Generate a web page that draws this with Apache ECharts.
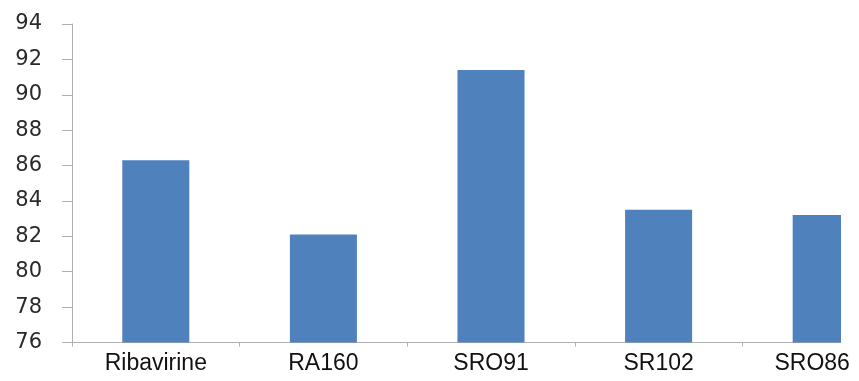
<!DOCTYPE html>
<html>
<head>
<meta charset="utf-8">
<script src="https://cdn.jsdelivr.net/npm/echarts@6/dist/echarts.min.js"></script>
<style>
html,body{margin:0;padding:0;background:#fff;overflow:hidden;width:859px;height:381px;}
#c{width:910px;height:381px;}
</style>
</head>
<body>
<div id="c"></div>
<script>
var categories = ['Ribavirine', 'RA160', 'SRO91', 'SR102', 'SRO86'];
var values = [86.3, 82.1, 91.4, 83.5, 83.2];
var yMin = 76, yMax = 94, yStep = 2;

var chart = echarts.init(document.getElementById('c'), null, {renderer: 'canvas'});
var catData = categories.map(function (c, i) {
  if (i === categories.length - 1) {
    return {value: c, textStyle: {padding: [0, 28, 0, 0]}};
  }
  return c;
});
chart.setOption({
  animation: false,
  backgroundColor: '#ffffff',
  grid: {left: 72, top: 24, right: 0, height: 318.5, containLabel: false},
  xAxis: {
    type: 'category',
    data: catData,
    boundaryGap: true,
    axisLine: {show: true, lineStyle: {color: '#b0b0b0', width: 1}},
    axisTick: {show: true, length: 4, lineStyle: {color: '#b0b0b0'}},
    axisLabel: {
      color: '#111111',
      fontFamily: 'Liberation Sans, Arial, sans-serif',
      fontSize: 23,
      margin: 10,
      interval: 0
    },
    splitLine: {show: false}
  },
  yAxis: {
    type: 'value',
    min: yMin,
    max: yMax,
    interval: yStep,
    axisLine: {show: true, lineStyle: {color: '#b0b0b0', width: 1}},
    axisTick: {show: true, length: 10, lineStyle: {color: '#b0b0b0'}},
    axisLabel: {
      color: '#2a2a2a',
      fontFamily: 'DejaVu Sans, Verdana, sans-serif',
      fontSize: 21,
      margin: 30
    },
    splitLine: {show: false}
  },
  series: [{
    type: 'bar',
    data: values,
    barCategoryGap: '60%',
    itemStyle: {color: '#4f81bd'}
  }],
  graphic: [{
    type: 'rect',
    shape: {x: 841, y: 0, width: 70, height: 347},
    style: {fill: '#ffffff'},
    z: 100
  }]
});
</script>
</body>
</html>
